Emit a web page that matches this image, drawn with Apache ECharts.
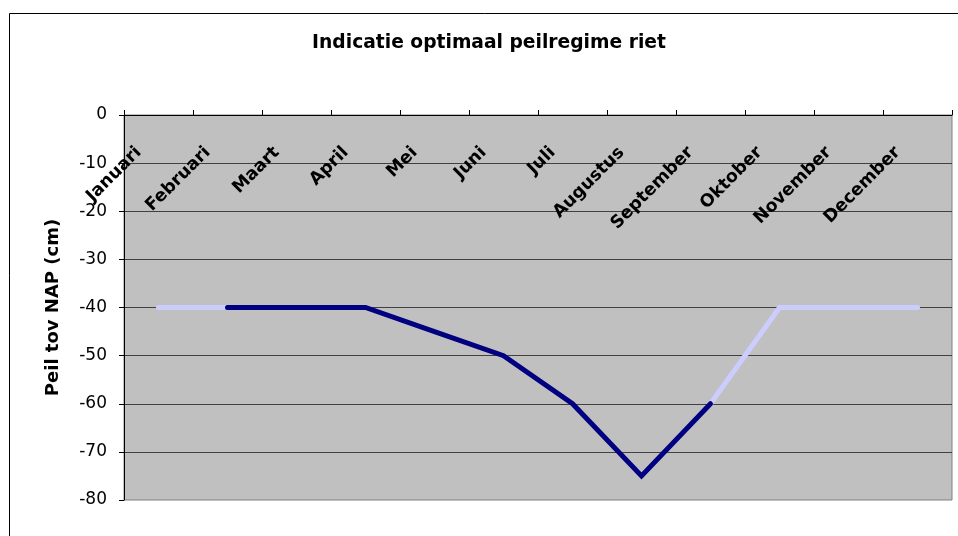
<!DOCTYPE html>
<html>
<head>
<meta charset="utf-8">
<script src="https://cdn.jsdelivr.net/npm/echarts@6/dist/echarts.min.js"></script>
<style>html,body{margin:0;padding:0;background:#fff}#c{width:958px;height:536px}</style>
</head>
<body>
<div id="c"></div>
<script>
// Data
var months = ['Januari','Februari','Maart','April','Mei','Juni','Juli','Augustus','September','Oktober','November','December'];
// light segments (outside growing season)
var peilLicht = [-40, -40, null, null, null, null, null, null, -60, -40, -40, -40];
// dark segment (growing season)
var peilDonker = [null, -40, -40, -40, -45, -50, -60, -75, -60, null, null, null];
var yTicks = {min: -80, max: 0, interval: 10};

var FONT = 'DejaVu Sans';
var chart = echarts.init(document.getElementById('c'), null, {renderer: 'canvas'});
chart.setOption({
  animation: false,
  backgroundColor: '#ffffff',
  graphic: [{
    type: 'rect', left: 7, top: 11, z: -10,
    shape: {width: 970, height: 560},
    style: {fill: 'none', stroke: '#000', lineWidth: 1}
  }],
  title: {
    text: 'Indicatie optimaal peilregime riet',
    left: 484, top: 29, textAlign: 'center',
    textStyle: {fontFamily: FONT, fontWeight: 'bold', fontSize: 18.7, color: '#000'}
  },
  grid: {
    left: 124, top: 115, right: 6, bottom: 36, outerBoundsMode: 'none', containLabel: false,
    show: true, backgroundColor: '#c0c0c0', borderColor: '#808080', borderWidth: 1
  },
  xAxis: {
    type: 'category', position: 'top', data: months, boundaryGap: true,
    axisLine: {show: true, onZero: false, lineStyle: {color: '#000', width: 1}},
    axisTick: {show: true, inside: false, length: 5, lineStyle: {color: '#000'}},
    axisLabel: {
      inside: true, rotate: -45, margin: 15, padding: [0, 28, 0, 0],
      fontFamily: FONT, fontWeight: 'bold', fontSize: 17.5, color: '#000', interval: 0
    },
    splitLine: {show: false}
  },
  yAxis: {
    type: 'value', min: yTicks.min, max: yTicks.max, interval: yTicks.interval,
    name: 'Peil tov NAP (cm)', nameLocation: 'middle', nameRotate: 90, nameGap: 62,
    nameTextStyle: {fontFamily: FONT, fontWeight: 'bold', fontSize: 18, color: '#000'},
    axisLine: {show: true, lineStyle: {color: '#000', width: 1}},
    axisTick: {show: true, length: 5, lineStyle: {color: '#000'}},
    axisLabel: {margin: 17, fontFamily: FONT, fontSize: 17, color: '#000'},
    splitLine: {show: true, showMinLine: false, lineStyle: {color: '#404040', width: 1}}
  },
  series: [{
    type: 'line', data: peilLicht, showSymbol: false, symbol: 'none', connectNulls: false,
    lineStyle: {color: '#ccccff', width: 5, cap: 'round', join: 'miter'}, z: 2
  }, {
    type: 'line', data: peilDonker, showSymbol: false, symbol: 'none', connectNulls: false,
    lineStyle: {color: '#000080', width: 5, cap: 'round', join: 'miter'}, z: 3
  }]
});
</script>
</body>
</html>
